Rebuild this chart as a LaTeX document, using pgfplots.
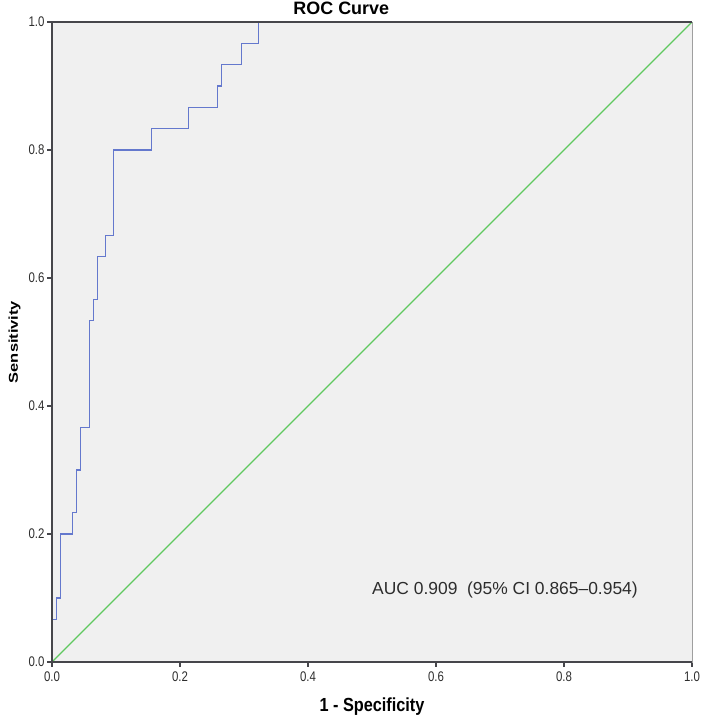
\documentclass[border=0pt]{standalone}
\usepackage{fontspec}
\setmainfont{Liberation Sans}
\usepackage{pgfplots}
\pgfplotsset{compat=1.18}
\definecolor{rocblue}{RGB}{100,120,205}
\definecolor{refgreen}{RGB}{95,200,95}
\definecolor{bggray}{RGB}{240,240,240}
\definecolor{axgray}{RGB}{70,70,75}
\definecolor{txtgray}{RGB}{45,45,45}
\begin{document}
\begin{tikzpicture}
\begin{axis}[
  scale only axis, width=640bp, height=640bp,
  xmin=0, xmax=1, ymin=0, ymax=1,
  axis background/.style={fill=bggray},
  axis line style={gray!75, line width=0.8pt},
  tick style={axgray, line width=1.3pt},
  tick align=outside, major tick length=5bp,
  xtick={0,0.2,0.4,0.6,0.8,1}, ytick={0,0.2,0.4,0.6,0.8,1},
  xtick pos=bottom, ytick pos=left,
  xticklabel={\scalebox{0.82}[1]{\pgfmathprintnumber{\tick}}},
  yticklabel={\scalebox{0.82}[1]{\pgfmathprintnumber{\tick}}},
  xticklabel style={font=\fontsize{14}{15}\selectfont, text=txtgray, yshift=-1bp},
  yticklabel style={font=\fontsize{14}{15}\selectfont, text=txtgray, xshift=1bp},
  title={ROC Curve},
  title style={font=\fontsize{18}{20}\selectfont\bfseries, at={(axis description cs:0.452,1.011)}, anchor=base, inner sep=0pt, yshift=-6pt},
  xlabel={\scalebox{0.86}[1]{1 - Specificity}},
  xlabel style={font=\fontsize{19}{21}\selectfont\bfseries, at={(axis description cs:0.5,-0.078)}, anchor=base, inner sep=0pt},
  ylabel={\scalebox{1}[0.78]{Sensitivity}},
  ylabel style={font=\fontsize{16.5}{18}\selectfont\bfseries, at={(axis description cs:-0.0535,0.5)}, anchor=base, inner sep=0pt},
  /pgf/number format/fixed, /pgf/number format/fixed zerofill, /pgf/number format/precision=1,
  /pgf/number format/assume math mode=true,
  clip=false,
]
\addplot[refgreen, line width=1.1pt] coordinates {(0,0) (1,1)};
\addplot[rocblue, line width=1.2pt] coordinates {
(0,0) (0,0.0667) (0.007,0.0667) (0.007,0.1) (0.0135,0.1) (0.0135,0.2)
(0.032,0.2) (0.032,0.2333) (0.038,0.2333) (0.038,0.3) (0.045,0.3) (0.045,0.3667)
(0.059,0.3667) (0.059,0.5333) (0.065,0.5333) (0.065,0.5667) (0.071,0.5667) (0.071,0.6333)
(0.083,0.6333) (0.083,0.6667) (0.096,0.6667) (0.096,0.8) (0.155,0.8) (0.155,0.8333)
(0.213,0.8333) (0.213,0.8667) (0.258,0.8667) (0.258,0.9) (0.265,0.9) (0.265,0.9333)
(0.296,0.9333) (0.296,0.9667) (0.323,0.9667) (0.323,1) (1,1)};
\draw[axgray, line width=1.6pt] (rel axis cs:1,1) -- (rel axis cs:0,1) -- (rel axis cs:0,0) -- (rel axis cs:1,0);
\node[anchor=base west, font=\fontsize{17.5}{19}\selectfont, text=txtgray, inner sep=0pt] at (axis cs:0.5,0.105) {AUC 0.909\ \ (95\% CI 0.865–0.954)};
\end{axis}
\pgfresetboundingbox
\useasboundingbox ([shift={(-52bp,-55bp)}]current axis.south west) rectangle ([shift={(10bp,22bp)}]current axis.north east);
\end{tikzpicture}
\end{document}
